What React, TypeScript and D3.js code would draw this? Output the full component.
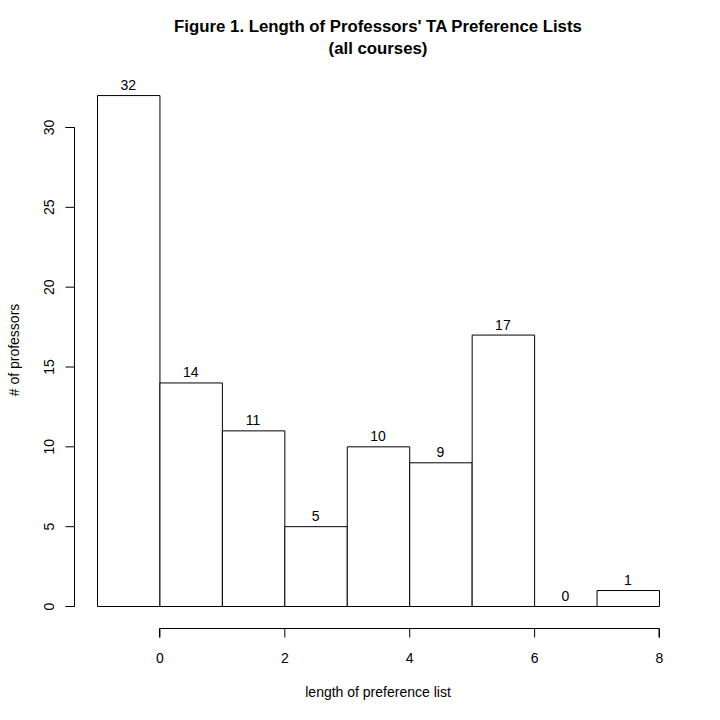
import React, { useRef, useEffect } from 'react';
import * as d3 from 'd3';

// histogram bins (left edge) and counts
const binStarts = [-1, 0, 1, 2, 3, 4, 5, 6, 7];
const counts = [32, 14, 11, 5, 10, 9, 17, 0, 1];
const xTicks = [0, 2, 4, 6, 8];
const yTicks = [0, 5, 10, 15, 20, 25, 30];

const titleLines = ["Figure 1. Length of Professors' TA Preference Lists", '(all courses)'];
const xLabel = 'length of preference list';
const yLabel = '# of professors';

const App: React.FC = () => {
  const svgRef = useRef<SVGSVGElement>(null);

  useEffect(() => {
    if (!svgRef.current) return;
    const svg = d3.select(svgRef.current);
    svg.selectAll('*').remove();

    const font = '"Liberation Sans", Arial, sans-serif';

    const x = d3.scaleLinear().domain([-1, 8]).range([97, 659]);
    const y = d3.scaleLinear().domain([0, 30]).range([606, 127]);

    svg.append('rect').attr('width', 720).attr('height', 720).attr('fill', '#fff');

    // title
    svg.append('g')
      .selectAll('text')
      .data(titleLines)
      .enter()
      .append('text')
      .attr('x', 378)
      .attr('y', (_, i) => 32 + i * 22)
      .attr('text-anchor', 'middle')
      .attr('font-family', font)
      .attr('font-weight', 'bold')
      .attr('font-size', 16.8)
      .attr('fill', '#000')
      .text(d => d);

    // bars (drawn as paths so a zero count still shows its base line)
    const bars = svg.append('g');
    bars.selectAll('path')
      .data(counts)
      .enter()
      .append('path')
      .attr('d', (d, i) => {
        const x0 = x(binStarts[i]) + 0.5;
        const x1 = x(binStarts[i] + 1) + 0.5;
        const y0 = y(0) + 0.5;
        const y1 = y(d) + 0.5;
        return `M${x0},${y0}V${y1}H${x1}V${y0}Z`;
      })
      .attr('fill', '#fff')
      .attr('stroke', '#000')
      .attr('stroke-width', 1);

    bars.selectAll('text')
      .data(counts)
      .enter()
      .append('text')
      .attr('x', (_, i) => x(binStarts[i] + 0.5))
      .attr('y', d => y(d) - 5)
      .attr('text-anchor', 'middle')
      .attr('font-family', font)
      .attr('font-size', 14)
      .attr('fill', '#000')
      .text(d => d);

    // x axis
    const xAxis = svg.append('g').attr('transform', 'translate(0,628.5)');
    xAxis.call(d3.axisBottom(x).tickValues(xTicks).tickSize(9).tickFormat(d3.format('d')))
      .call(g => g.select('.domain').attr('d', `M${x(0)},9V0H${x(8)}V9`))
      .call(g => g.selectAll('text')
        .attr('font-family', font)
        .attr('font-size', 14)
        .attr('fill', '#000')
        .attr('dy', null)
        .attr('y', 34));
    xAxis.selectAll('.tick').attr('transform', d => `translate(${x(d as number) + 0.5},0)`);

    // y axis
    const yAxis = svg.append('g').attr('transform', 'translate(74.5,0)');
    yAxis.call(d3.axisLeft(y).tickValues(yTicks).tickSize(9).tickPadding(0).tickFormat(d3.format('d')))
      .call(g => g.select('.domain').attr('d', `M-9,${y(0) + 0.5}H0V${y(30) + 0.5}H-9`))
      .call(g => g.selectAll('text')
        .attr('font-family', font)
        .attr('font-size', 14)
        .attr('fill', '#000')
        .attr('x', null)
        .attr('dy', null)
        .attr('text-anchor', 'middle')
        .attr('transform', 'translate(-21,0) rotate(-90)')
        .attr('y', 0));
    yAxis.selectAll('.tick').attr('transform', d => `translate(0,${y(d as number) + 0.5})`);

    // axis titles
    svg.append('text')
      .attr('x', 378)
      .attr('y', 697)
      .attr('text-anchor', 'middle')
      .attr('font-family', font)
      .attr('font-size', 14)
      .attr('fill', '#000')
      .text(xLabel);

    svg.append('text')
      .attr('transform', 'translate(19,350) rotate(-90)')
      .attr('text-anchor', 'middle')
      .attr('font-family', font)
      .attr('font-size', 14)
      .attr('fill', '#000')
      .text(yLabel);
  }, []);

  return (
    <svg
      ref={svgRef}
      width={720}
      height={720}
      style={{ position: 'absolute', left: 0, top: 0 }}
    />
  );
};

export default App;
